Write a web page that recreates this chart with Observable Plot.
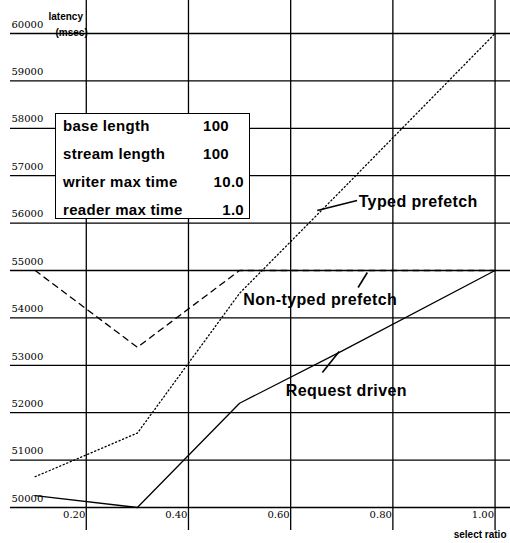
<!DOCTYPE html>
<html>
<head>
<meta charset="utf-8">
<script src="https://cdn.jsdelivr.net/npm/d3@7"></script>
<script src="https://cdn.jsdelivr.net/npm/@observablehq/plot@0.6"></script>
<style>
  html, body { margin: 0; padding: 0; background: #fff; }
  #wrap { position: relative; width: 510px; height: 543px; overflow: hidden; }
  #legend {
    position: absolute; left: 55px; top: 113px; width: 195px; height: 106px;
    box-sizing: border-box; border: 1.5px solid #000; background: #fff;
    font-family: "Liberation Sans", Arial, sans-serif; font-weight: bold; font-size: 15px;
    letter-spacing: 0.3px; color: #000;
  }
  #legend .row { position: absolute; left: 7px; right: 0; height: 20px; line-height: 20px; }
  #legend .val { position: absolute; top: 0; }
</style>
</head>
<body>
<div id="wrap"></div>
<script>
// ---- data ----
const selectRatio = [0.1, 0.3, 0.5, 0.7, 1.0];
const typedPrefetch = [50650, 51570, 54520, 56700, 60000];
const nonTypedPrefetch = [55000, 53380, 55000, 55000, 55000];
const requestDriven = [50250, 50000, 52200, 53300, 55000];

const xTicks = [0.2, 0.4, 0.6, 0.8, 1.0];
const xTickLabels = ["0.20", "0.40", "0.60", "0.80", "1.00"];
const yTicks = [50000, 51000, 52000, 53000, 54000, 55000, 56000, 57000, 58000, 59000, 60000];

const legendLabels = ["base length", "stream length", "writer max time", "reader max time"];
const legendValues = ["100", "100", "10.0", "1.0"];

// annotation labels (data space) and their leader lines
const annLabels = ["Typed prefetch", "Non-typed prefetch", "Request driven"];
const annTextX = [0.733, 0.658, 0.709];
const annTextY = [56440, 54388, 52468];
const annAnchor = ["start", "middle", "middle"];
const leadX1 = [0.652, 0.750, 0.695];
const leadY1 = [56266, 54958, 53291];
const leadX2 = [0.730, 0.732, 0.662];
const leadY2 = [56477, 54641, 52848];

// ---- build tables ----
const series = [
  {name: "Typed prefetch", values: typedPrefetch, dash: "1.2,2.6"},
  {name: "Non-typed prefetch", values: nonTypedPrefetch, dash: "6,5"},
  {name: "Request driven", values: requestDriven, dash: null}
];
const xt = xTicks.map((x, i) => ({x, label: xTickLabels[i]}));
const leads = annLabels.map((t, i) => ({x1: leadX1[i], y1: leadY1[i], x2: leadX2[i], y2: leadY2[i]}));

const marks = [
  Plot.ruleY(yTicks, {stroke: "#000", strokeWidth: 1.3}),
  Plot.ruleX(xTicks, {stroke: "#000", strokeWidth: 1.3}),
  Plot.text(yTicks, {y: d => d, text: d => String(d), frameAnchor: "left", textAnchor: "start", dx: 1, dy: -9,
    fontFamily: "DejaVu Serif", fontSize: 10, fill: "#000"}),
  Plot.text(xt, {x: "x", text: "label", frameAnchor: "bottom", textAnchor: "end", dx: -1, dy: -13,
    fontFamily: "DejaVu Serif", fontSize: 10, fill: "#000"}),
  Plot.text(["select ratio"], {frameAnchor: "bottom-right", textAnchor: "end", dx: -4, dy: 7,
    fontFamily: "Liberation Sans", fontWeight: "bold", fontSize: 10, fill: "#000"}),
  Plot.text(["latency"], {frameAnchor: "top-left", textAnchor: "start", dx: 38, dy: 12,
    fontFamily: "Liberation Sans", fontWeight: "bold", fontSize: 10, fill: "#000"}),
  Plot.text(["(msec)"], {frameAnchor: "top-left", textAnchor: "start", dx: 45, dy: 28,
    fontFamily: "Liberation Sans", fontWeight: "bold", fontSize: 10, fill: "#000"})
];
for (const s of series) {
  const rows = selectRatio.map((x, i) => ({x, y: s.values[i]}));
  marks.push(Plot.line(rows, {x: "x", y: "y", stroke: "#000", strokeWidth: 1.3,
    strokeDasharray: s.dash ?? undefined}));
}
marks.push(Plot.link(leads, {x1: "x1", y1: "y1", x2: "x2", y2: "y2", stroke: "#000", strokeWidth: 1.6}));
annLabels.forEach((t, i) => {
  marks.push(Plot.text([t], {x: () => annTextX[i], y: () => annTextY[i], text: d => d,
    textAnchor: annAnchor[i], fontFamily: "Liberation Sans", fontWeight: "bold", fontSize: 16, fill: "#000"}));
});

const chart = Plot.plot({
  width: 510,
  height: 543,
  marginLeft: 10, marginRight: 0, marginTop: 0, marginBottom: 13,
  x: {domain: [0.0517, 1.0302], axis: null},
  y: {domain: [49515, 60696], axis: null},
  style: {background: "#fff", color: "#000", overflow: "visible"},
  marks
});
chart.querySelectorAll("text").forEach(t => {
  if (annLabels.includes(t.textContent)) t.setAttribute("letter-spacing", "0.4");
});
const wrap = document.getElementById("wrap");
wrap.appendChild(chart);

// legend box (overlaid like in the original figure)
const legend = document.createElement("div");
legend.id = "legend";
const rowTops = [2, 30, 58, 86];
const valRight = [20, 20, 5, 5];
legendLabels.forEach((lab, i) => {
  const r = document.createElement("div");
  r.className = "row";
  r.style.top = rowTops[i] + "px";
  r.textContent = lab;
  const v = document.createElement("span");
  v.className = "val";
  v.style.right = valRight[i] + "px";
  v.textContent = legendValues[i];
  r.appendChild(v);
  legend.appendChild(r);
});
wrap.appendChild(legend);
</script>
</body>
</html>
